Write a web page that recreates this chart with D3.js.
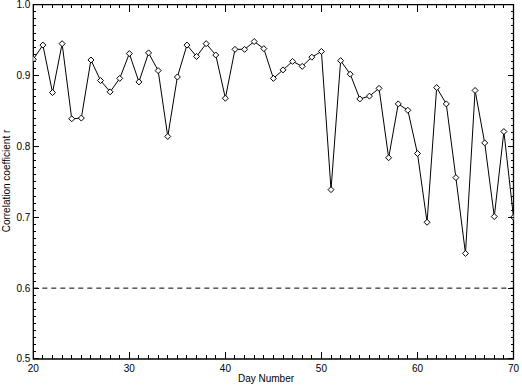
<!DOCTYPE html>
<html>
<head>
<meta charset="utf-8">
<script src="https://cdn.jsdelivr.net/npm/d3@7"></script>
<style>
  body { margin: 0; background: #fff; }
  text { font-family: "Liberation Sans", Arial, sans-serif; font-size: 10px; fill: #000; }
</style>
</head>
<body>
<script>
var days = d3.range(20, 71);
var corr = [0.923, 0.943, 0.876, 0.945, 0.839, 0.840, 0.922, 0.893, 0.877, 0.896,
            0.931, 0.891, 0.932, 0.907, 0.814, 0.898, 0.943, 0.927, 0.945, 0.929,
            0.868, 0.937, 0.937, 0.948, 0.938, 0.896, 0.908, 0.920, 0.913, 0.926,
            0.934, 0.739, 0.921, 0.902, 0.867, 0.871, 0.882, 0.784, 0.860, 0.851,
            0.790, 0.693, 0.883, 0.860, 0.756, 0.649, 0.879, 0.805, 0.701, 0.821,
            0.700];
var threshold = 0.6;
var xTicks = [20, 30, 40, 50, 60, 70];
var yTicks = [0.5, 0.6, 0.7, 0.8, 0.9, 1.0];
var xMinor = d3.range(20, 71, 1);
var yMinor = d3.range(50, 101, 1).map(function(v) { return v / 100; });

var dataset = days.map(function(d, i) { return {day: d, r: corr[i]}; });

var margin = {top: 4.7, bottom: 29, left: 33.3, right: 8.5};
var W = 522, H = 388;
var w = W - margin.left - margin.right,
    h = H - margin.top - margin.bottom;

var svg = d3.select("body").append("svg")
    .attr("width", W)
    .attr("height", H);

var g = svg.append("g")
    .attr("transform", "translate(" + margin.left + "," + margin.top + ")");

// scales
var xScale = d3.scaleLinear().domain([20, 70]).range([0, w]);
var yScale = d3.scaleLinear().domain([0.5, 1.0]).range([h, 0]);

g.append("defs").append("clipPath").attr("id", "clip")
  .append("rect").attr("width", w).attr("height", h);

// frame
g.append("path")
  .attr("d", "M0,0H" + w + "V" + h + "H0Z")
  .attr("fill", "none").attr("stroke", "#000").attr("stroke-width", 1.3);

// threshold line
g.append("line")
  .attr("x1", 0).attr("x2", w)
  .attr("y1", yScale(threshold)).attr("y2", yScale(threshold))
  .attr("stroke", "#000").attr("stroke-dasharray", "5,4");

// data line + diamonds
var plot = g.append("g").attr("clip-path", "url(#clip)");

plot.append("path")
  .datum(dataset)
  .attr("fill", "none")
  .attr("stroke", "#000")
  .attr("stroke-width", 1)
  .attr("d", d3.line().x(function(d) { return xScale(d.day); }).y(function(d) { return yScale(d.r); }));

plot.selectAll("path.pt")
  .data(dataset)
  .enter()
  .append("path")
    .attr("class", "pt")
    .attr("transform", function(d) { return "translate(" + xScale(d.day) + "," + yScale(d.r) + ")"; })
    .attr("d", "M0,-3L3,0L0,3L-3,0Z")
    .attr("fill", "#fff")
    .attr("stroke", "#000")
    .attr("stroke-width", 1);

// ticks, pointing inward on all four sides
function isMajorX(d) { return d % 10 === 0; }
function isMajorY(d) { return Math.round(d * 100) % 10 === 0; }

var tickPath = d3.path();
xMinor.forEach(function(d) {
  var len = isMajorX(d) ? 7 : 3.5, x = xScale(d);
  tickPath.moveTo(x, h); tickPath.lineTo(x, h - len);
  tickPath.moveTo(x, 0); tickPath.lineTo(x, len);
});
yMinor.forEach(function(d) {
  var len = isMajorY(d) ? 5.5 : 3, y = yScale(d);
  tickPath.moveTo(0, y); tickPath.lineTo(len, y);
  tickPath.moveTo(w, y); tickPath.lineTo(w - len, y);
});
g.append("path")
  .attr("d", tickPath.toString())
  .attr("fill", "none")
  .attr("stroke", "#000")
  .attr("stroke-width", 1)
  .attr("shape-rendering", "crispEdges");

// tick labels
g.selectAll("text.xl").data(xTicks).enter().append("text")
  .attr("class", "xl")
  .attr("x", function(d) { return xScale(d); })
  .attr("y", h + 13)
  .attr("text-anchor", "middle")
  .text(d3.format("d"));

g.selectAll("text.yl").data(yTicks).enter().append("text")
  .attr("class", "yl")
  .attr("x", -3)
  .attr("y", function(d) { return yScale(d); })
  .attr("dy", "0.35em")
  .attr("text-anchor", "end")
  .text(d3.format(".1f"));

// titles
svg.append("text")
  .attr("x", 266).attr("y", 382)
  .attr("text-anchor", "middle")
  .text("Day Number");

svg.append("text")
  .attr("transform", "translate(10,181) rotate(-90)")
  .attr("text-anchor", "middle")
  .text("Correlation coefficient r");
</script>
</body>
</html>
